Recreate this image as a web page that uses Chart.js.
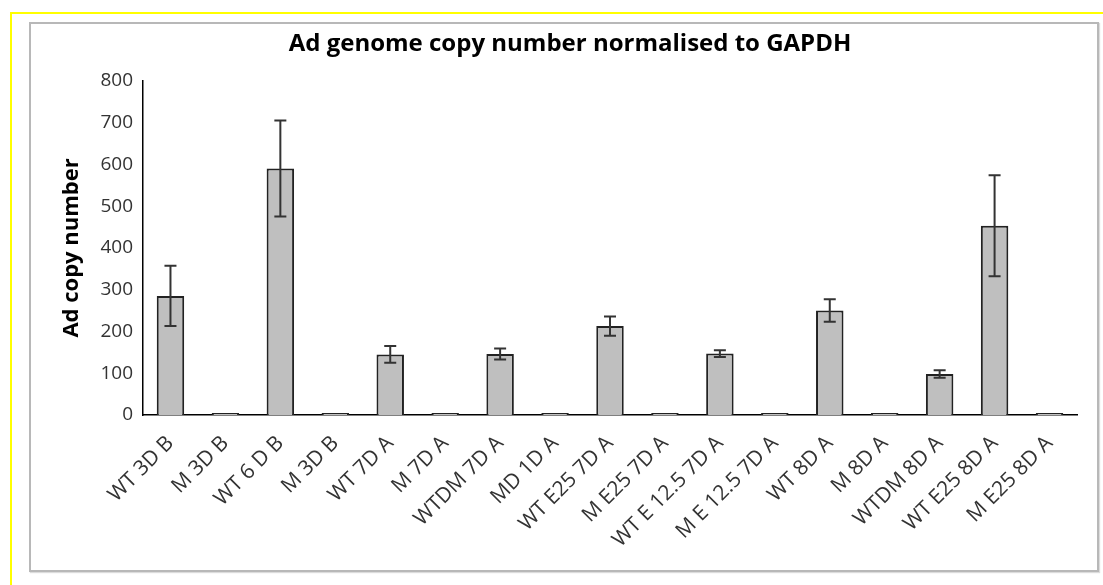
<!DOCTYPE html>
<html>
<head>
<meta charset="utf-8">
<script src="https://cdn.jsdelivr.net/npm/chart.js@4.4.1/dist/chart.umd.min.js"></script>
<style>
  html, body { margin: 0; padding: 0; background: #fff; }
  body { width: 1103px; height: 585px; position: relative; overflow: hidden; }
  #frame { position: absolute; left: 10px; top: 12px; width: 1200px; height: 700px;
           border-left: 2px solid #ffff00; border-top: 2px solid #ffff00; }
  #box { position: absolute; left: 29px; top: 22px; width: 1066px; height: 546px;
         border: 2px solid #b8b8b8; box-shadow: 1px 1px 1px #dcdcdc; }
  #wrap { position: absolute; left: 0; top: 0; width: 1103px; height: 585px; }
</style>
</head>
<body>
<div id="frame"></div>
<div id="box"></div>
<div id="wrap"><canvas id="myChart"></canvas></div>
<script>
// categorie e valori
var labels = ['WT 3D B', 'M 3D B', 'WT 6 D B', 'M 3D B', 'WT 7D A', 'M 7D A', 'WTDM 7D A', 'MD 1D A',
              'WT E25 7D A', 'M E25 7D A', 'WT E 12.5 7D A', 'M E 12.5 7D A', 'WT 8D A', 'M 8D A',
              'WTDM 8D A', 'WT E25 8D A', 'M E25 8D A'];
var copyNumber = [285, 1, 590, 1, 145, 1, 146, 3, 213, 1, 147, 1, 250, 1, 98, 453, 1];
var errors = [72, 0, 115, 0, 20, 0, 13, 0, 23, 0, 8, 0, 27, 0, 9, 121, 0];
var yTicks = [0, 100, 200, 300, 400, 500, 600, 700, 800];

// plugin per le barre di errore
var errorBars = {
  id: 'errorBars',
  afterDatasetsDraw: function(chart) {
    var ctx = chart.ctx;
    var meta = chart.getDatasetMeta(0);
    var yScale = chart.scales.y;
    ctx.save();
    ctx.strokeStyle = '#333333';
    ctx.lineWidth = 2;
    for (var i = 0; i < meta.data.length; i++) {
      if (!errors[i]) continue;
      var x = meta.data[i].x;
      var top = yScale.getPixelForValue(copyNumber[i] + errors[i]);
      var bottom = yScale.getPixelForValue(copyNumber[i] - errors[i]);
      ctx.beginPath();
      ctx.moveTo(x, top); ctx.lineTo(x, bottom);
      ctx.moveTo(x - 6, top); ctx.lineTo(x + 6, top);
      ctx.moveTo(x - 6, bottom); ctx.lineTo(x + 6, bottom);
      ctx.stroke();
    }
    ctx.restore();
  }
};

var ctx = document.getElementById('myChart').getContext('2d');
var myChart = new Chart(ctx, {
  type: 'bar',
  data: {
    labels: labels,
    datasets: [{
      data: copyNumber,
      backgroundColor: '#bfbfbf',
      borderColor: '#222222',
      borderWidth: 2,
      borderSkipped: 'bottom',
      minBarLength: 2,
      barPercentage: 0.5,
      categoryPercentage: 1.0
    }]
  },
  options: {
    responsive: true,
    maintainAspectRatio: false,
    animation: false,
    layout: { padding: { left: 37, right: 0, top: 23, bottom: 0 } },
    plugins: {
      legend: { display: false },
      tooltip: { enabled: false },
      title: {
        display: true,
        text: 'Ad genome copy number normalised to GAPDH',
        color: '#000',
        font: { family: 'Open Sans', size: 24, weight: 'bold' },
        padding: { top: 7, bottom: 22 }
      }
    },
    scales: {
      x: {
        grid: { display: false, drawTicks: false },
        border: { display: true, color: '#000', width: 1.5 },
        ticks: {
          color: '#333333',
          font: { family: 'Open Sans', size: 21 },
          maxRotation: 45, minRotation: 45, autoSkip: false, padding: 16
        },
        afterFit: function(scale) { scale.height = 170; }
      },
      y: {
        min: 0, max: 800,
        afterBuildTicks: function(scale) {
          scale.ticks = yTicks.map(function(v) { return { value: v }; });
        },
        grid: { display: false, drawTicks: false },
        border: { display: true, color: '#000', width: 1.5 },
        ticks: {
          color: '#333333',
          font: { family: 'Open Sans', size: 19 },
          padding: 10
        },
        title: {
          display: true,
          text: 'Ad copy number',
          color: '#000',
          font: { family: 'Open Sans', size: 22, weight: 'bold' },
          padding: { top: 22, bottom: 0 }
        },
        afterFit: function(scale) { scale.width = 106; }
      },
      // asse vuoto a destra solo per lo spazio
      y2: {
        position: 'right',
        display: true,
        grid: { display: false, drawTicks: false },
        border: { display: false },
        ticks: { display: false },
        afterFit: function(scale) { scale.width = 26; }
      }
    }
  },
  plugins: [errorBars]
});
</script>
</body>
</html>
